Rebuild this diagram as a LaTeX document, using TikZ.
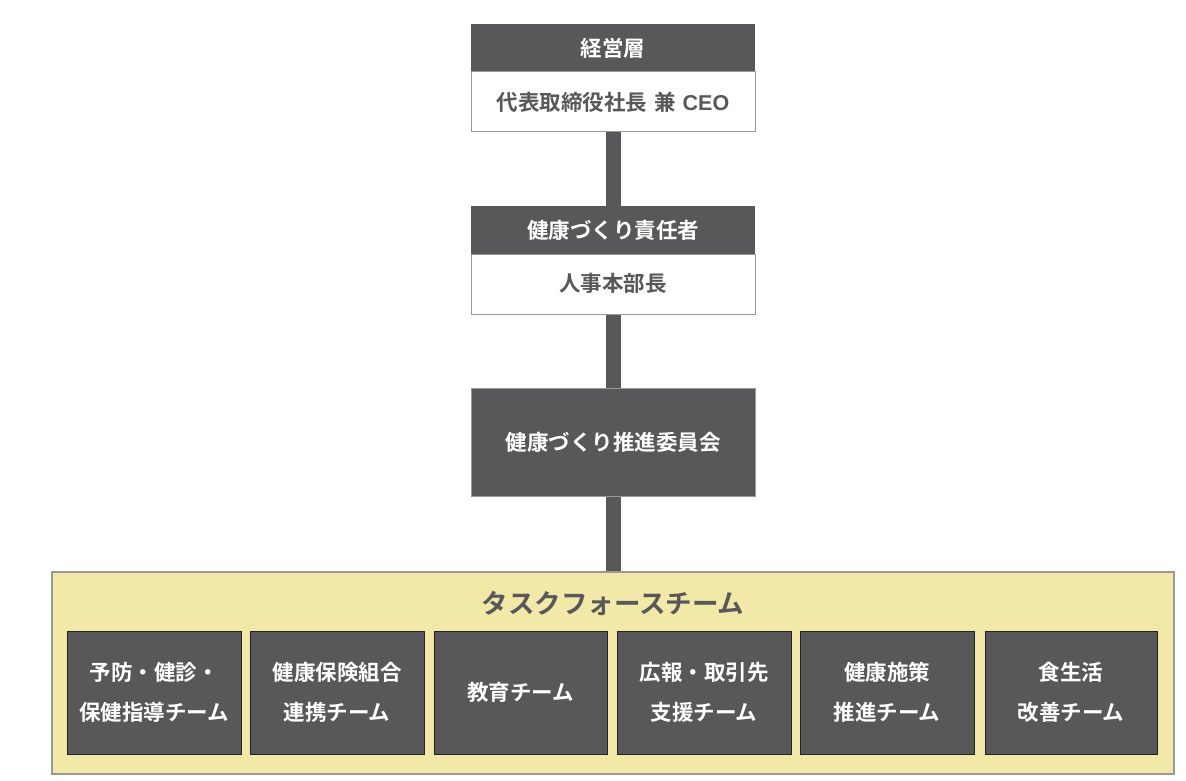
\documentclass[tikz,border=0pt]{standalone}
\usepackage{fontspec}
\setmainfont{Noto Sans CJK JP}[BoldFont={* Bold}]
\newfontfamily\latf{Liberation Sans}
\definecolor{dk}{HTML}{58575A}
\definecolor{yel}{HTML}{F2E8A8}
\definecolor{bd}{HTML}{9A9A95}
\begin{document}
\begin{tikzpicture}[x=1pt,y=-1pt,
  hdr/.style={fill=dk,draw=none},
  wbox/.style={fill=white,draw=bd,line width=1pt},
  wtxt/.style={text=white,font=\bfseries\fontsize{21.5}{24}\selectfont},
  dtxt/.style={text=dk,font=\bfseries\fontsize{21.5}{24}\selectfont},
  teamtxt/.style={text=white,align=center,font=\bfseries\fontsize{21.5}{40}\selectfont}]
\useasboundingbox (0,0) rectangle (1186,781);
% connectors
\fill[dk] (606,132) rectangle (621,206);
\fill[dk] (606,314) rectangle (621,388);
\fill[dk] (606,496) rectangle (621,572);
% top box
\path[hdr] (471,24) rectangle (755,72);
\path[wbox] (471,72) rectangle (755,132);
\node[wtxt] (h1) at (613,48) {経営層};
\node[dtxt] (b1) at (613,102) {代表取締役社長\hspace{0.35em}兼\hspace{0.3em}{\latf\bfseries CEO}};
% second box
\path[hdr] (471,206) rectangle (755,254);
\path[wbox] (471,254) rectangle (755,314);
\node[wtxt] (h2) at (613,230) {健康づくり責任者};
\node[dtxt] (b2) at (613,283) {人事本部長};
% third box
\path[fill=dk,draw=bd,line width=0.6pt] (471,388) rectangle (755,496);
\node[wtxt] (c3) at (613,442) {健康づくり推進委員会};
% task force
\path[fill=yel,draw=bd,line width=1.2pt] (52,572) rectangle (1174,774);
\node[text=dk,font=\bfseries\fontsize{26.5}{30}\selectfont] (tf) at (613,603) {タスクフォースチーム};
\foreach \xa/\xb/\t [count=\i] in {
  67/241/{予防・健診・\\保健指導チーム},
  250/424/{健康保険組合\\連携チーム},
  434/607/{教育チーム},
  617/791/{広報・取引先\\支援チーム},
  800/974/{健康施策\\推進チーム},
  985/1157/{食生活\\改善チーム}}{
  \path[fill=dk,draw=black!60!dk,line width=0.6pt] (\xa,631) rectangle (\xb,754);
  \node[teamtxt] (t\i) at ({(\xa+\xb)/2},692) {\t};
}
\end{tikzpicture}
\end{document}
